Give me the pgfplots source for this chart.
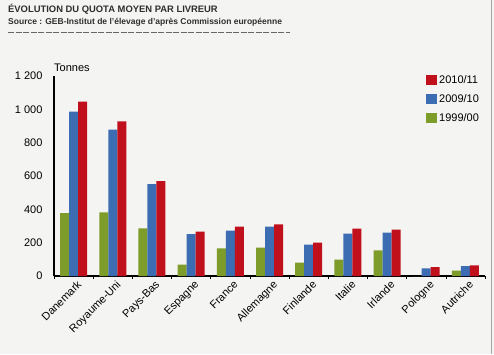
\documentclass[border=0pt]{standalone}
\usepackage{fontspec}
\setmainfont{Liberation Sans}
\usepackage{pgfplots}
\pgfplotsset{compat=1.18}
\definecolor{bg}{HTML}{F4F4F2}
\definecolor{cred}{HTML}{C0101C}
\definecolor{cblue}{HTML}{3C6CB2}
\definecolor{cgreen}{HTML}{7E9C2A}
\definecolor{ctitle}{HTML}{2E2E2E}
\begin{document}
\begin{tikzpicture}[x=1bp,y=1bp]
\fill[bg] (0,0) rectangle (494,-354);
\path[use as bounding box] (0,0) rectangle (494,-354);
\draw[gray!70,line width=1bp] (491,0) -- (491,-354);
\node[anchor=base west,inner sep=0,font=\fontsize{9.4bp}{11bp}\selectfont\bfseries,text=ctitle] at (8,-12) {ÉVOLUTION DU QUOTA MOYEN PAR LIVREUR};
\node[anchor=base west,inner sep=0,font=\fontsize{8.5bp}{10bp}\selectfont\bfseries,text=ctitle] at (8,-24) {Source : GEB-Institut de l'élevage d'après Commission européenne};
\draw[gray!80!black,line width=0.8bp,dash pattern=on 6bp off 1.5bp] (8,-32) -- (290,-32);
\node[anchor=base west,inner sep=0,font=\fontsize{11bp}{13bp}\selectfont] at (54,-71) {Tonnes};
\begin{axis}[
  at={(54bp,-276bp)}, anchor=south west,
  scale only axis, width=431bp, height=200bp,
  xmin=-0.5, xmax=10.5, ymin=0, ymax=1200,
  ybar=0pt, bar width=9bp,
  axis x line*=bottom, axis y line*=left,
  axis line style={line width=1.4bp,black},
  ytick={0,200,...,1200},
  xtick={0,...,10},
  xticklabels={Danemark,Royaume-Uni,Pays-Bas,Espagne,France,Allemagne,Finlande,Italie,Irlande,Pologne,Autriche},
  minor xtick={-0.5,0.5,...,10.5},
  major tick length=0pt, minor tick length=3bp, tick align=outside,
  minor tick style={black,line width=0.6bp},
  /pgf/number format/assume math mode=true,
  /pgf/number format/1000 sep={\ },
  yticklabel style={font=\fontsize{11bp}{13bp}\selectfont, xshift=-8bp},
  xticklabel style={font=\fontsize{11bp}{13bp}\selectfont, rotate=45, anchor=north east, inner sep=0.5bp, xshift=0bp, yshift=-4bp},
  legend style={draw=none, fill=none, at={(0.863,1.015)}, anchor=north west,
    font=\fontsize{11bp}{13bp}\selectfont, row sep=5.5bp, inner sep=0pt},
  legend cell align=left,
  reverse legend,
  legend image code/.code={\fill[#1] (0bp,-5bp) rectangle (11bp,5bp);},
  every axis plot/.append style={draw=none},
]
\addplot[fill=cgreen] coordinates {(0,378) (1,382) (2,286) (3,68) (4,166) (5,170) (6,80) (7,98) (8,154) (9,0) (10,32)};
\addplot[fill=cblue] coordinates {(0,986) (1,878) (2,552) (3,252) (4,272) (5,296) (6,188) (7,254) (8,260) (9,46) (10,60)};
\addplot[fill=cred] coordinates {(0,1046) (1,928) (2,570) (3,266) (4,296) (5,310) (6,200) (7,284) (8,278) (9,54) (10,64)};
\legend{1999/00,2009/10,2010/11}
\end{axis}
\end{tikzpicture}
\end{document}
